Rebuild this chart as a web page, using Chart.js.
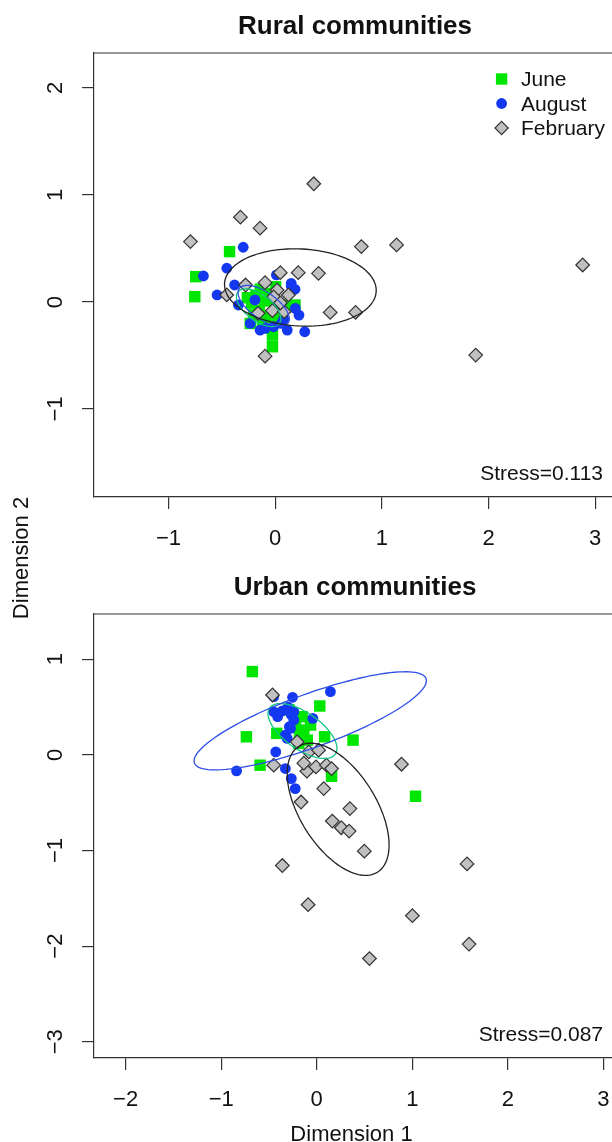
<!DOCTYPE html>
<html lang="en">
<head>
<meta charset="utf-8">
<title>NMDS – rural and urban communities</title>

<script src="https://cdn.jsdelivr.net/npm/chart.js"></script>

<style>
  html,body{margin:0;padding:0;background:#fff;overflow:hidden}
  body{width:612px;height:1142px;position:relative;font-family:"Liberation Sans",Arial,sans-serif}
  #rural{position:absolute;left:0;top:0}
  #urban{position:absolute;left:0;top:570px}
  #ylab{position:absolute;left:-79.5px;top:547.3px;width:200px;height:22px;text-align:center;
        font-size:22px;line-height:22px;color:#111;transform:rotate(-90deg)}
</style>
</head>
<body>

<canvas id="rural" width="612" height="570"></canvas>
<canvas id="urban" width="612" height="572"></canvas>
<div id="ylab">Dimension 2</div>

<script>
const seasons = ['June', 'August', 'February'];

// Rural communities
const ruralJuneX = [-0.428,-0.745,-0.754,0.004,-0.026,-0.026,-0.234,0.186,-0.220,-0.180,-0.150,-0.100,-0.060,-0.200,-0.120,0.000,-0.050,0.030,-0.260,-0.140,0.100,-0.080];
const ruralJuneY = [0.471,0.237,0.050,0.143,-0.309,-0.418,-0.200,-0.028,-0.010,0.060,-0.080,0.010,-0.130,-0.120,-0.180,-0.050,0.080,-0.160,0.040,0.120,-0.030,-0.240];
const ruralAugX = [-0.300,-0.454,-0.673,-0.381,-0.545,0.150,0.186,0.011,-0.345,-0.234,-0.142,-0.015,0.113,0.223,0.277,0.058,0.189,0.033,-0.092,0.080,-0.190,0.150];
const ruralAugY = [0.512,0.316,0.243,0.159,0.066,0.175,0.119,0.253,-0.028,-0.200,-0.262,-0.231,-0.262,-0.122,-0.278,-0.200,-0.059,-0.044,-0.246,-0.160,0.020,0.150];
const ruralFebX = [0.362,-0.326,-0.142,-0.795,0.808,1.138,2.883,0.048,0.216,0.406,-0.278,-0.095,-0.454,0.124,0.516,0.754,-0.161,-0.026,0.084,-0.095,1.880,0.018,-0.014,0.049];
const ruralFebY = [1.105,0.793,0.690,0.565,0.518,0.534,0.346,0.274,0.274,0.268,0.159,0.181,0.066,0.066,-0.097,-0.097,-0.106,-0.081,-0.090,-0.506,-0.496,0.112,0.047,-0.009];
// ellipses: June, August, February
const ruralEllX = [-0.155,-0.108,0.236];
const ruralEllY = [-0.053,-0.035,0.136];
const ruralEllA = [0.244,0.280,0.712];
const ruralEllB = [0.122,0.125,0.360];
const ruralEllAngle = [-37,-35,-3];
const ruralXTicks = [-1,0,1,2,3];
const ruralYTicks = [-1,0,1,2];

// Urban communities
const urbanJuneX = [-0.674,0.032,-0.736,0.380,0.082,-0.418,-0.593,0.155,1.034,-0.222,-0.135,-0.099,-0.187,-0.152,-0.065,-0.287,-0.180];
const urbanJuneY = [0.871,0.511,0.189,0.154,0.189,0.225,-0.108,-0.224,-0.433,0.294,0.259,0.154,0.120,0.399,0.312,0.469,0.200];
const urbanAugX = [0.143,-0.253,-0.450,-0.450,-0.409,-0.266,-0.041,-0.287,-0.328,-0.429,-0.839,-0.328,-0.266,-0.225,-0.240,-0.240,-0.274,-0.309,-0.360,-0.300];
const urbanAugY = [0.661,0.602,0.609,0.451,0.399,0.417,0.382,0.294,0.207,0.031,-0.168,-0.143,-0.248,-0.353,0.451,0.364,0.277,0.172,0.460,0.500];
const urbanFebX = [-0.463,-0.205,-0.083,0.020,-0.450,-0.103,-0.008,0.102,0.155,0.887,0.073,-0.164,0.347,0.163,0.257,0.339,0.498,-0.360,1.573,-0.090,1.001,1.594,0.552,-0.135];
const urbanFebY = [0.626,0.136,0.031,0.049,-0.108,-0.171,-0.126,-0.108,-0.143,-0.098,-0.353,-0.493,-0.562,-0.692,-0.762,-0.797,-1.007,-1.157,-1.140,-1.567,-1.682,-1.979,-2.130,-0.087];
const urbanEllX = [-0.149,-0.068,0.224];
const urbanEllY = [0.249,0.356,-0.569];
const urbanEllA = [0.420,1.290,0.776];
const urbanEllB = [0.190,0.279,0.400];
const urbanEllAngle = [-35,20,-58];
const urbanXTicks = [-2,-1,0,1,2,3];
const urbanYTicks = [-3,-2,-1,0,1];

const FONT = '"Liberation Sans", Arial, sans-serif';
const INK = '#111';
const AXIS = '#333';
const pointColors = ['#00e600', '#1437f0', '#c0c0c0'];
const ellColors = ['#10c880', '#2d4fe6', '#222'];

const fmt = v => v < 0 ? '\u2212' + Math.abs(v) : String(v);
const pts = (xs, ys) => xs.map((x, i) => ({x, y: ys[i]}));

function marker(ctx, k, x, y) {
  ctx.save();
  ctx.fillStyle = pointColors[k];
  ctx.beginPath();
  if (k === 0) ctx.rect(x - 5.7, y - 5.7, 11.4, 11.4);
  else if (k === 1) ctx.arc(x, y, 5.4, 0, Math.PI * 2);
  else { ctx.moveTo(x - 6.6, y); ctx.lineTo(x, y - 6.6); ctx.lineTo(x + 6.6, y); ctx.lineTo(x, y + 6.6); ctx.closePath(); }
  ctx.fill();
  if (k === 2) { ctx.strokeStyle = AXIS; ctx.lineWidth = 1.2; ctx.stroke(); }
  ctx.restore();
}

function overlay(p) {
  return {
    id: 'rstyle',
    afterDatasetsDraw(chart) {
      const {ctx, chartArea: ca, scales: {x, y}} = chart;
      ctx.save();
      ctx.beginPath(); ctx.rect(ca.left, ca.top, ca.right - ca.left, ca.bottom - ca.top); ctx.clip();
      ctx.lineWidth = 1.3;
      p.ellX.forEach((cx, k) => {
        const th = p.ellAngle[k] * Math.PI / 180, a = p.ellA[k], b = p.ellB[k], cy = p.ellY[k];
        ctx.strokeStyle = ellColors[k];
        ctx.beginPath();
        for (let i = 0; i <= 120; i++) {
          const t = i / 120 * Math.PI * 2;
          const ex = cx + a * Math.cos(t) * Math.cos(th) - b * Math.sin(t) * Math.sin(th);
          const ey = cy + a * Math.cos(t) * Math.sin(th) + b * Math.sin(t) * Math.cos(th);
          const px = x.getPixelForValue(ex), py = y.getPixelForValue(ey);
          i ? ctx.lineTo(px, py) : ctx.moveTo(px, py);
        }
        ctx.closePath();
        ctx.stroke();
      });
      ctx.restore();
    },
    afterDraw(chart) {
      const {ctx, chartArea: ca, scales: {y}} = chart;
      ctx.save();
      // top of the box
      ctx.strokeStyle = AXIS; ctx.lineWidth = 1.2;
      ctx.beginPath(); ctx.moveTo(ca.left, ca.top); ctx.lineTo(ca.right, ca.top); ctx.stroke();
      // rotated y tick labels, as in R
      ctx.fillStyle = INK;
      ctx.font = '22px ' + FONT;
      ctx.textAlign = 'center';
      ctx.textBaseline = 'alphabetic';
      y.ticks.forEach(t => {
        ctx.save();
        ctx.translate(61.5, y.getPixelForValue(t.value));
        ctx.rotate(-Math.PI / 2);
        ctx.fillText(fmt(t.value), 0, 0);
        ctx.restore();
      });
      // title
      ctx.font = 'bold 26px ' + FONT;
      ctx.fillText(p.title, 355, p.titleY);
      // stress
      ctx.font = '21px ' + FONT;
      ctx.textAlign = 'right';
      ctx.fillText(p.stress, 603, p.stressY);
      // legend
      if (p.legend) {
        ctx.textAlign = 'left';
        seasons.forEach((s, k) => {
          const ly = 79 + k * 24.5;
          marker(ctx, k, 501.6, ly);
          ctx.fillStyle = INK;
          ctx.fillText(s, 521, ly + 7.4);
        });
      }
      if (p.xlab) {
        ctx.font = '22px ' + FONT;
        ctx.textAlign = 'center';
        ctx.fillText(p.xlab, 351.5, p.xlabY);
      }
      ctx.restore();
    }
  };
}

function panel(id, p) {
  const canvas = document.getElementById(id);
  const H = canvas.height;
  new Chart(canvas, {
    type: 'scatter',
    data: {
      datasets: [
        { label: seasons[0], data: pts(p.juneX, p.juneY), order: 3, pointStyle: 'rect', pointRadius: 8.1,
          pointBackgroundColor: pointColors[0], pointBorderWidth: 0 },
        { label: seasons[1], data: pts(p.augX, p.augY), order: 2, pointStyle: 'circle', pointRadius: 5.4,
          pointBackgroundColor: pointColors[1], pointBorderWidth: 0 },
        { label: seasons[2], data: pts(p.febX, p.febY), order: 1, pointStyle: 'rectRot', pointRadius: 6.8,
          pointBackgroundColor: pointColors[2], pointBorderColor: AXIS, pointBorderWidth: 1.2 }
      ]
    },
    options: {
      responsive: false,
      animation: false,
      devicePixelRatio: 1,
      layout: { autoPadding: false, padding: { top: p.boxTop, left: 0, right: 0, bottom: 0 } },
      plugins: { legend: { display: false }, tooltip: { enabled: false }, title: { display: false } },
      scales: {
        x: {
          type: 'linear', min: p.xMin, max: p.xMax,
          afterBuildTicks: s => { s.ticks = p.xTicks.map(v => ({value: v})); },
          afterFit: s => { s.height = H - p.boxBottom; s.paddingLeft = 0; s.paddingRight = 0; },
          grid: { drawOnChartArea: false, drawTicks: true, tickLength: 12, color: AXIS, lineWidth: 1.2 },
          border: { display: true, color: AXIS, width: 1.2 },
          ticks: { color: INK, font: { size: 22, family: FONT }, padding: 17, autoSkip: false, maxRotation: 0,
                   callback: v => fmt(v) }
        },
        y: {
          type: 'linear', min: p.yMin, max: p.yMax,
          afterBuildTicks: s => { s.ticks = p.yTicks.map(v => ({value: v})); },
          afterFit: s => { s.width = 94; s.paddingTop = 0; s.paddingBottom = 0; },
          grid: { drawOnChartArea: false, drawTicks: true, tickLength: 12, color: AXIS, lineWidth: 1.2 },
          border: { display: true, color: AXIS, width: 1.2 },
          ticks: { color: 'rgba(0,0,0,0)', font: { size: 22, family: FONT }, callback: v => fmt(v) }
        }
      }
    },
    plugins: [overlay(p)]
  });
}

panel('rural', {
  juneX: ruralJuneX, juneY: ruralJuneY, augX: ruralAugX, augY: ruralAugY, febX: ruralFebX, febY: ruralFebY,
  ellX: ruralEllX, ellY: ruralEllY, ellA: ruralEllA, ellB: ruralEllB, ellAngle: ruralEllAngle,
  xTicks: ruralXTicks, yTicks: ruralYTicks,
  xMin: -1.699, xMax: 3.158, yMin: -1.822, yMax: 2.327,
  boxTop: 53, boxBottom: 497,
  title: 'Rural communities', titleY: 34,
  stress: 'Stress=0.113', stressY: 480,
  legend: true
});

panel('urban', {
  juneX: urbanJuneX, juneY: urbanJuneY, augX: urbanAugX, augY: urbanAugY, febX: urbanFebX, febY: urbanFebY,
  ellX: urbanEllX, ellY: urbanEllY, ellA: urbanEllA, ellB: urbanEllB, ellAngle: urbanEllAngle,
  xTicks: urbanXTicks, yTicks: urbanYTicks,
  xMin: -2.331, xMax: 3.090, yMin: -3.170, yMax: 1.473,
  boxTop: 44, boxBottom: 488,
  title: 'Urban communities', titleY: 24.5,
  stress: 'Stress=0.087', stressY: 470.5,
  xlab: 'Dimension 1', xlabY: 571
});
</script>

</body>
</html>
